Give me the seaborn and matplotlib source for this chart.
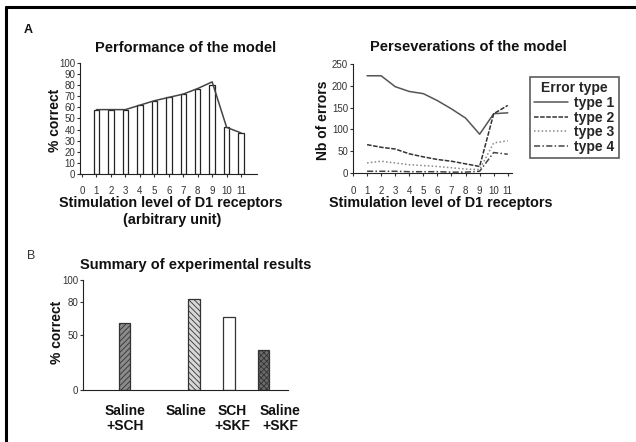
import numpy as np
import pandas as pd
import matplotlib.pyplot as plt
from matplotlib.lines import Line2D
import seaborn as sns
plt.switch_backend('Agg')

# panel A, left: model performance
levels = list(range(1, 12))
perf_bars = [58, 58, 58, 62, 66, 69, 72, 77, 80, 42, 37]
perf_line = [58, 58, 58, 62, 66, 69, 72, 77, 83, 42, 37]

# panel A, right: perseverative errors per type
err_type1 = [223, 223, 198, 187, 182, 166, 147, 126, 89, 136, 138]
err_type2 = [65, 59, 55, 44, 37, 31, 27, 21, 15, 136, 155]
err_type3 = [23, 27, 23, 19, 17, 15, 12, 9, 8, 69, 74]
err_type4 = [4, 4, 4, 3, 3, 3, 2, 2, 4, 47, 43]
type_names = ['type 1', 'type 2', 'type 3', 'type 4']

# panel B: experimental summary
groups = ['Saline\n+SCH', 'Saline', 'SCH\n+SKF', 'Saline\n+SKF']
group_pos = [0, 2, 3, 4]
group_vals = [61, 83, 66, 36]

sns.set_style('ticks')
plt.rcParams['font.family'] = ['Liberation Sans', 'DejaVu Sans']
plt.rcParams['axes.edgecolor'] = '#222222'
plt.rcParams['xtick.color'] = '#333333'
plt.rcParams['ytick.color'] = '#333333'
plt.rcParams['hatch.color'] = '#333333'
plt.rcParams['hatch.linewidth'] = 0.6

W, H = 636, 442
fig = plt.figure(figsize=(W / 100, H / 100), dpi=100)


def box(l, t, r, b):
    # pixel box -> figure fraction rect
    return [l / W, 1 - b / H, (r - l) / W, (b - t) / H]


bold = dict(fontweight='bold', color='#111111')
tick_fs = 7
title_fs = 10.5
label_fs = 10.4

# ---- A left
ax1 = fig.add_axes(box(80, 63, 257, 174))
sns.barplot(x=levels, y=perf_bars, native_scale=True, width=0.38,
            color='white', edgecolor='#222222', linewidth=0.9, ax=ax1)
sns.lineplot(x=levels, y=perf_line, color='#444444', linewidth=1.1, ax=ax1)
ax1.set_xlim(-0.14, 12.1)
ax1.set_ylim(0, 100)
ax1.set_xticks(range(0, 12))
ax1.set_yticks(range(0, 101, 10))
ax1.tick_params(labelsize=tick_fs, length=2, width=0.8, pad=7)
ax1.tick_params(axis='y', pad=1.5)
sns.despine(ax=ax1)

fig.text(186 / W, 1 - 48 / H, 'Performance of the model', ha='center', va='center', fontsize=title_fs, **bold)
fig.text(55 / W, 1 - 120 / H, '% correct', ha='center', va='center', rotation=90, fontsize=10, **bold)
fig.text(171 / W, 1 - 203 / H, 'Stimulation level of D1 receptors', ha='center', va='center', fontsize=label_fs, **bold)
fig.text(172 / W, 1 - 220 / H, '(arbitrary unit)', ha='center', va='center', fontsize=label_fs, **bold)

# ---- A right
ax2 = fig.add_axes(box(353, 64, 512, 173))
err = pd.DataFrame({
    'level': levels * 4,
    'errors': err_type1 + err_type2 + err_type3 + err_type4,
    'type': [t for t in type_names for _ in levels],
})
line_cols = ['#555555', '#333333', '#888888', '#444444']
sns.lineplot(data=err, x='level', y='errors', hue='type', style='type',
             palette=line_cols,
             dashes=['', (3, 1), (1, 1.5), (4, 1.5, 1, 1.5)],
             linewidth=1.1, ax=ax2, legend=False)
ax2.set_xlim(0, 11.3)
ax2.set_ylim(0, 250)
ax2.set_xticks(range(0, 12))
ax2.set_yticks(range(0, 251, 50))
ax2.set_xlabel('')
ax2.set_ylabel('')
ax2.tick_params(labelsize=tick_fs, length=2, width=0.8, pad=7)
ax2.tick_params(axis='y', pad=1.5)
sns.despine(ax=ax2)

fig.text(468 / W, 1 - 47 / H, 'Perseverations of the model', ha='center', va='center', fontsize=title_fs, **bold)
fig.text(323 / W, 1 - 120 / H, 'Nb of errors', ha='center', va='center', rotation=90, fontsize=10, **bold)
fig.text(441 / W, 1 - 203 / H, 'Stimulation level of D1 receptors', ha='center', va='center', fontsize=label_fs, **bold)

handles = [Line2D([], [], color=c, ls=ls, lw=1.1)
           for c, ls in zip(line_cols,
                            ['-', (0, (3, 1)), (0, (1, 1.5)), (0, (4, 1.5, 1, 1.5))])]
leg = fig.legend(handles, type_names, title='Error type', loc='upper left',
                 bbox_to_anchor=(530 / W, 1 - 77 / H), borderaxespad=0,
                 frameon=True, fancybox=False,
                 edgecolor='#333333', fontsize=10, title_fontsize=10,
                 handlelength=2.4, handletextpad=0.5, labelspacing=0.05,
                 borderpad=0.3)
leg.get_frame().set_linewidth(1.2)
leg.get_title().set_fontweight('bold')
for t in leg.get_texts():
    t.set_fontweight('bold')

# ---- B
ax3 = fig.add_axes(box(83, 280, 288, 390))
sns.barplot(x=group_pos, y=group_vals, native_scale=True, width=0.32,
            color='white', edgecolor='#333333', linewidth=0.9, ax=ax3)
faces = ['#8a8a8a', '#d8d8d8', 'white', '#6a6a6a']
hatches = ['//////', '\\\\\\\\\\\\', '', 'xxxxxx']
for p, fc, h in zip(ax3.patches, faces, hatches):
    p.set_facecolor(fc)
    p.set_hatch(h)
ax3.set_xlim(-1.18, 4.69)
ax3.set_ylim(0, 100)
ax3.set_yticks([0, 50, 80, 100])
ax3.set_xticks([0.03, 1.77, 3.1, 4.46])
ax3.set_xticklabels(groups, fontsize=10, fontweight='bold', color='#111111', linespacing=1.1)
ax3.tick_params(axis='x', length=0, pad=10)
ax3.tick_params(axis='y', labelsize=tick_fs, length=2, width=0.8, pad=1.5)
sns.despine(ax=ax3)

fig.text(196 / W, 1 - 265 / H, 'Summary of experimental results', ha='center', va='center', fontsize=title_fs, **bold)
fig.text(57 / W, 1 - 332 / H, '% correct', ha='center', va='center', rotation=90, fontsize=10, **bold)

# panel letters
fig.text(24 / W, 1 - 30 / H, 'A', ha='left', va='center', fontsize=9, **bold)
fig.text(27 / W, 1 - 256 / H, 'B', ha='left', va='center', fontsize=9, color='#333333')

# frame around the figure (only top and left edge fall inside the crop)
fig.add_artist(Line2D([6 / W, 1], [1 - 7 / H, 1 - 7 / H], color='black', lw=2.2, transform=fig.transFigure))
fig.add_artist(Line2D([6 / W, 6 / W], [0, 1 - 7 / H], color='black', lw=2.2, transform=fig.transFigure))

fig.savefig('out.png', dpi=100)
